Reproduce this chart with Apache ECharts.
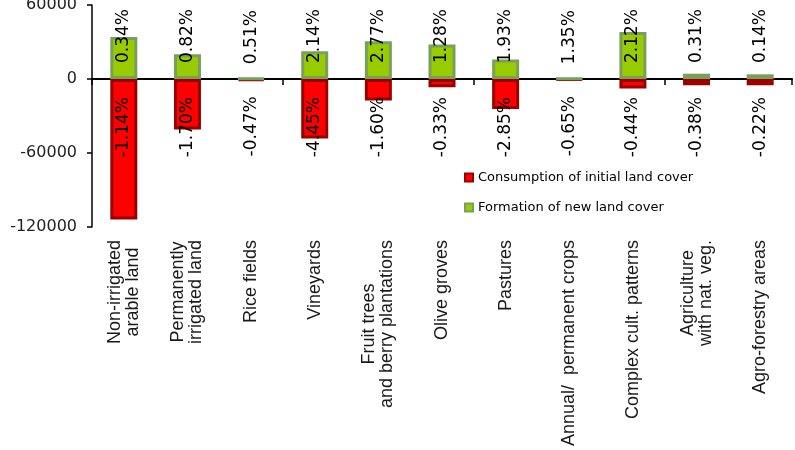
<!DOCTYPE html>
<html>
<head>
<meta charset="utf-8">
<title>Land cover consumption and formation in agriculture</title>
<script src="https://cdn.jsdelivr.net/npm/echarts@6/dist/echarts.min.js"></script>
<style>
  html, body { margin: 0; padding: 0; background: #ffffff; }
  #chart { width: 795px; height: 450px; }
</style>
</head>
<body>
<div id="chart"></div>
<script>
// Agricultural land cover classes (two-line names use \n)
const categories = [
  'Non-irrigated\narable land',
  'Permanently\nirrigated land',
  'Rice fields',
  'Vineyards',
  'Fruit trees\nand berry plantations',
  'Olive groves',
  'Pastures',
  'Annual/  permanent crops',
  'Complex cult. patterns',
  'Agriculture\nwith nat. veg.',
  'Agro-forestry areas'
];

// Area consumed from each class (negative) and newly formed (positive)
const consumption = [-114000, -41000, -1200, -48300, -17500, -6700, -24300, -800, -7800, -5100, -5100];
const formation   = [34000, 20000, 600, 22600, 30700, 28000, 15900, 500, 38200, 4300, 3800];

// Change relative to the initial stock of each class, in percent
const consumptionPct = [-1.14, -1.70, -0.47, -4.45, -1.60, -0.33, -2.85, -0.65, -0.44, -0.38, -0.22];
const formationPct   = [0.34, 0.82, 0.51, 2.14, 2.77, 1.28, 1.93, 1.35, 2.12, 0.31, 0.14];

// Value axis ticks
const yMin = -120000, yMax = 60000, yStep = 60000;

const pct = v => v.toFixed(2) + '%';
const numFont = 'DejaVu Sans';
const catFont = 'Liberation Sans';

const chart = echarts.init(document.getElementById('chart'), null, { renderer: 'canvas' });

chart.setOption({
  animation: false,
  backgroundColor: '#ffffff',
  grid: { left: 92, right: 3, top: 5, bottom: 223, containLabel: false, outerBoundsMode: 'none' },
  legend: {
    orient: 'vertical',
    left: 459,
    top: 166,
    itemWidth: 8,
    itemHeight: 8,
    itemGap: 17,
    icon: 'rect',
    textStyle: { fontFamily: numFont, fontSize: 13, color: '#000' },
    data: [
      { name: 'Consumption of initial land cover', itemStyle: { color: '#ff0000', borderColor: '#990000', borderWidth: 2 } },
      { name: 'Formation of new land cover', itemStyle: { color: '#99cc00', borderColor: '#77a05a', borderWidth: 2 } }
    ]
  },
  xAxis: [
    {
      // class names below the plot; lines of a two-line name are centred
      type: 'category',
      data: categories,
      position: 'bottom',
      axisLine: { show: false, onZero: false },
      axisTick: { show: false },
      splitLine: { show: false },
      axisLabel: {
        rotate: 90,
        margin: 13,
        interval: 0,
        fontFamily: catFont,
        fontSize: 18,
        lineHeight: 18,
        color: '#1a1a1a',
        formatter: v => v.split('\n').map(s => '{c|' + s + '}').join('\n'),
        rich: { c: { align: 'center', fontFamily: catFont, fontSize: 18, lineHeight: 18, color: '#1a1a1a' } }
      }
    },
    {
      // baseline through zero with ticks between classes
      type: 'category',
      data: categories,
      position: 'top',
      axisLine: { show: true, onZero: true, lineStyle: { color: '#000', width: 2 } },
      axisTick: { show: true, inside: true, length: 6, lineStyle: { color: '#000', width: 1.5 } },
      axisLabel: { show: false },
      splitLine: { show: false }
    }
  ],
  yAxis: {
    type: 'value',
    min: yMin,
    max: yMax,
    interval: yStep,
    axisLine: { show: true, lineStyle: { color: '#000', width: 1.5 } },
    axisTick: { show: true, length: 5, lineStyle: { color: '#000', width: 1.5 } },
    splitLine: { show: false },
    axisLabel: {
      margin: 15, fontFamily: numFont, fontSize: 16, color: '#222',
      formatter: v => String(v)
    }
  },
  series: [
    {
      name: 'Consumption of initial land cover',
      type: 'bar',
      xAxisIndex: 0,
      stack: 'change',
      barWidth: 27,
      data: consumption,
      itemStyle: { color: '#ff0000', borderColor: '#990000', borderWidth: 3 },
      label: {
        show: true,
        position: 'insideTop',
        distance: 18,
        rotate: 90,
        align: 'right',
        verticalAlign: 'middle',
        fontFamily: numFont,
        fontSize: 17,
        color: '#000',
        formatter: p => pct(consumptionPct[p.dataIndex])
      }
    },
    {
      name: 'Formation of new land cover',
      type: 'bar',
      xAxisIndex: 0,
      stack: 'change',
      barWidth: 27,
      data: formation,
      itemStyle: { color: '#99cc00', borderColor: '#77a05a', borderWidth: 3 },
      label: {
        show: true,
        position: 'insideBottom',
        distance: 16,
        rotate: 90,
        align: 'left',
        verticalAlign: 'middle',
        fontFamily: numFont,
        fontSize: 17,
        color: '#000',
        formatter: p => pct(formationPct[p.dataIndex])
      }
    }
  ]
});
</script>
</body>
</html>
